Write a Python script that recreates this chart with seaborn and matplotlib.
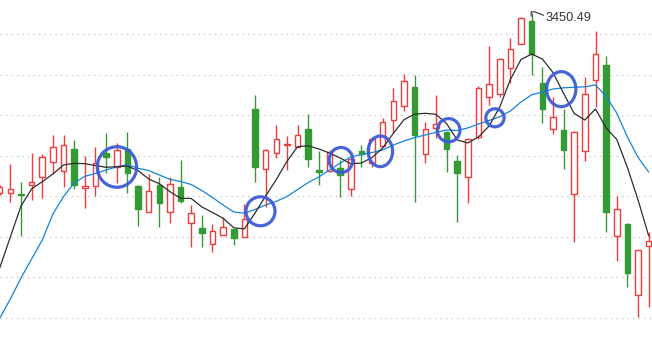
import numpy as np
import pandas as pd
import matplotlib
matplotlib.use("Agg")
import matplotlib.pyplot as plt
import matplotlib.transforms as mtransforms
from matplotlib.patches import Rectangle, Ellipse
import seaborn as sns

# ---- data ----
opens = [3229.1, 3228.7, 3227.8, 3239.3, 3248.4, 3266.9, 3256.2, 3283.3, 3234.8, 3237.3,
         3278.3, 3261.5, 3282.9, 3237.7, 3205.3, 3238.9, 3205.3, 3236.4, 3192.1, 3185.9,
         3166.2, 3176.9, 3184.3, 3175.2, 3332.6, 3258.3, 3278.0, 3287.8, 3285.4, 3307.9,
         3257.4, 3256.2, 3260.2, 3233.6, 3280.8, 3266.0, 3287.0, 3318.6, 3336.3, 3359.3,
         3276.7, 3308.8, 3304.2, 3268.5, 3248.4, 3297.7, 3347.0, 3350.7, 3382.7, 3412.3,
         3441.0, 3364.2, 3307.9, 3306.7, 3227.8, 3280.4, 3367.9, 3386.8, 3175.7, 3190.8,
         3103.0, 3163.7]
closes = [3236.4, 3233.6, 3226.6, 3242.6, 3273.0, 3285.4, 3287.8, 3238.9, 3237.3, 3265.6,
          3273.8, 3282.0, 3254.1, 3209.7, 3231.1, 3217.1, 3240.1, 3219.6, 3204.8, 3179.4,
          3182.8, 3187.5, 3174.0, 3196.6, 3261.5, 3281.7, 3295.2, 3289.4, 3300.2, 3271.3,
          3255.5, 3279.6, 3251.2, 3271.0, 3276.7, 3295.2, 3316.5, 3342.8, 3366.7, 3300.9,
          3307.5, 3313.7, 3283.6, 3254.1, 3295.6, 3358.8, 3363.0, 3393.8, 3406.1, 3444.3,
          3400.3, 3332.2, 3322.3, 3282.4, 3304.6, 3350.7, 3400.3, 3205.3, 3209.0, 3130.8,
          3158.8, 3169.9]
highs = [3238.9, 3264.8, 3242.6, 3278.0, 3277.1, 3300.5, 3300.9, 3294.4, 3275.0, 3285.4,
         3303.0, 3291.0, 3304.2, 3238.5, 3252.5, 3249.1, 3248.4, 3269.7, 3214.3, 3201.6,
         3190.8, 3199.1, 3184.3, 3215.1, 3349.8, 3283.6, 3312.9, 3299.3, 3313.2, 3326.4,
         3281.4, 3282.0, 3269.7, 3272.2, 3288.2, 3298.1, 3320.9, 3358.5, 3375.7, 3374.5,
         3316.2, 3349.8, 3305.5, 3275.9, 3297.2, 3360.9, 3410.6, 3395.0, 3419.7, 3446.3,
         3450.49, 3384.0, 3347.0, 3332.6, 3305.8, 3372.4, 3428.7, 3397.9, 3225.4, 3192.4,
         3158.8, 3180.6]
lows = [3226.6, 3218.3, 3176.1, 3220.4, 3223.3, 3252.5, 3236.8, 3233.6, 3210.2, 3225.7,
        3253.3, 3241.7, 3228.7, 3188.4, 3205.3, 3186.8, 3191.7, 3216.3, 3162.9, 3162.9,
        3156.7, 3176.9, 3165.0, 3175.2, 3243.0, 3212.2, 3272.6, 3257.0, 3285.4, 3261.5,
        3238.9, 3254.9, 3224.5, 3225.4, 3261.5, 3261.1, 3285.7, 3303.4, 3330.5, 3218.3,
        3265.6, 3296.5, 3255.3, 3193.7, 3216.3, 3295.2, 3337.5, 3347.0, 3364.2, 3412.1,
        3374.8, 3315.7, 3301.8, 3258.3, 3168.3, 3268.9, 3335.4, 3181.4, 3145.6, 3113.6,
        3076.6, 3088.9]
ma5 = [3136.6, 3174.8, 3213.0, 3234.0, 3243.0, 3252.5, 3263.6, 3265.6, 3265.2, 3262.9,
       3260.7, 3261.5, 3262.1, 3256.8, 3246.3, 3240.5, 3230.7, 3222.5, 3222.3, 3211.8,
       3205.0, 3197.9, 3186.2, 3184.7, 3204.4, 3225.4, 3245.7, 3268.1, 3286.1, 3287.2,
       3283.3, 3278.3, 3272.2, 3265.0, 3266.0, 3272.8, 3284.5, 3302.6, 3319.4, 3326.2,
       3327.3, 3326.0, 3314.7, 3294.4, 3290.7, 3298.1, 3311.6, 3335.0, 3368.9, 3393.6,
       3400.3, 3394.2, 3377.6, 3351.9, 3327.0, 3319.0, 3332.6, 3309.2, 3295.0, 3260.5,
       3220.4, 3176.1]
ma10 = [3074.6, 3098.4, 3124.3, 3147.7, 3171.1, 3203.2, 3224.7, 3241.4, 3249.6, 3253.1,
        3257.4, 3261.2, 3264.2, 3259.5, 3256.8, 3251.2, 3245.9, 3243.2, 3239.5, 3232.1,
        3223.5, 3214.3, 3205.6, 3204.2, 3208.7, 3214.3, 3218.8, 3224.6, 3233.4, 3242.0,
        3248.8, 3257.4, 3266.0, 3273.4, 3276.5, 3279.0, 3282.0, 3288.2, 3293.1, 3297.4,
        3300.5, 3303.9, 3306.7, 3306.1, 3309.2, 3314.1, 3318.4, 3323.1, 3330.1, 3341.2,
        3350.1, 3353.5, 3357.2, 3358.7, 3359.3, 3359.9, 3362.2, 3348.0, 3327.6, 3298.1,
        3272.8, 3254.9]
peak_label = "3450.49"
grid_levels = [3425, 3375, 3325, 3275, 3225, 3175, 3125, 3075]

# highlighted crossover circles (center index, center price, width, height)
circle_x = [11.02, 24.51, 32.08, 35.78, 42.2, 46.55, 52.78]
circle_y = [3261.1, 3206.5, 3269.7, 3280.4, 3306.4, 3321.7, 3357.0]
circle_w = [3.70, 2.73, 2.22, 2.30, 2.12, 1.72, 2.75]
circle_h = [50.0, 35.7, 30.8, 37.8, 28.6, 22.2, 43.1]

# ---- figure ----
sns.set_theme(style="white")
plt.rcParams["font.family"] = ["Liberation Sans", "DejaVu Sans"]

fig = plt.figure(figsize=(6.52, 3.54), dpi=100)
fig.patch.set_facecolor("white")
ax = fig.add_axes([0, 0, 1, 1])
ax.set_xlim(0.028, 61.31)
ax.set_ylim(3030.6, 3466.9)
ax.set_axis_off()

for g in grid_levels:
    ax.axhline(g, color="#c2c2c2", lw=0.9, linestyle=(0, (1.0, 3.4)), zorder=0)

df = pd.DataFrame({"idx": np.arange(len(opens)), "open": opens, "close": closes,
                   "high": highs, "low": lows, "ma5": ma5, "ma10": ma10})

red = "#f03c3c"
green = "#349a34"
bw = 0.52
for _, r in df.iterrows():
    i = r["idx"]
    up = r["close"] >= r["open"]
    col = red if up else green
    ax.vlines(i, r["low"], r["high"], color=col, lw=1.0, zorder=2)
    lo = min(r["open"], r["close"])
    h = max(abs(r["close"] - r["open"]), 0.9)
    ax.add_patch(Rectangle((i - bw / 2, lo), bw, h,
                           facecolor="white" if up else col,
                           edgecolor=col, lw=1.0, zorder=3))

sns.lineplot(data=df, x="idx", y="ma10", color="#1584dc", lw=0.9, ax=ax, zorder=4)
sns.lineplot(data=df, x="idx", y="ma5", color="#2e2e2e", lw=0.9, ax=ax, zorder=5)
ax.set_xlim(0.028, 61.31)
ax.set_ylim(3030.6, 3466.9)

for cx, cy, cw, ch in zip(circle_x, circle_y, circle_w, circle_h):
    ax.add_patch(Ellipse((cx, cy), cw, ch, fill=False, edgecolor="#3d5cd6",
                         lw=2.3, alpha=0.95, zorder=6))

# peak label
peak = int(np.argmax(highs))
fig.canvas.draw()
px, py = ax.transData.transform((peak, highs[peak]))
ax.plot([px - 0.5, px - 0.5, px + 3, px + 12], [py - 3, py + 1.5, py + 1.5, py - 2],
        transform=mtransforms.IdentityTransform(), color="#333333", lw=0.8, zorder=7)
ax.annotate(peak_label, xy=(peak, highs[peak]), xytext=(10.3, -3.4),
            textcoords="offset points", fontsize=9.2, color="#333333",
            ha="left", va="center", zorder=7)

fig.savefig("out.png", dpi=100, facecolor="white")
